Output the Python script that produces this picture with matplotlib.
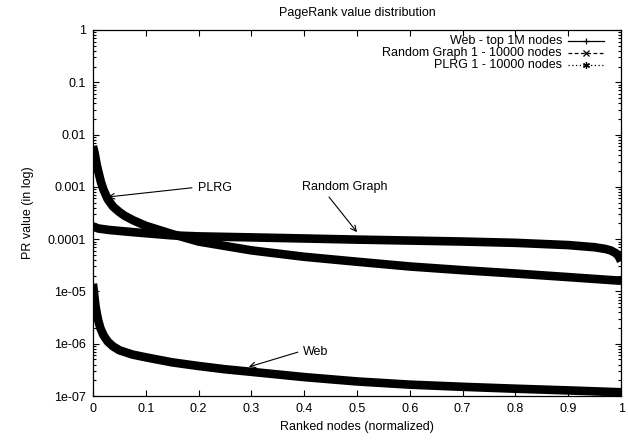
import matplotlib
matplotlib.use("Agg")
import matplotlib.pyplot as plt
from matplotlib.ticker import FixedLocator, FixedFormatter, LogLocator, NullFormatter

plt.rcParams['font.family'] = ['Liberation Sans', 'DejaVu Sans']

# ---- data ----
web_x = [0, 0.002, 0.005, 0.0075, 0.01, 0.014, 0.02, 0.028, 0.038, 0.05, 0.075, 0.1,
         0.15, 0.2, 0.25, 0.3, 0.4, 0.5, 0.6, 0.7, 0.8, 0.9, 1.0]
web_y = [1.4e-5, 9.3e-6, 5.1e-6, 3.7e-6, 2.8e-6, 2.0e-6, 1.45e-6, 1.1e-6, 8.9e-7,
         7.5e-7, 6.2e-7, 5.5e-7, 4.4e-7, 3.75e-7, 3.25e-7, 2.9e-7, 2.3e-7, 1.9e-7,
         1.65e-7, 1.5e-7, 1.38e-7, 1.28e-7, 1.18e-7]

rg_x = [0, 0.01, 0.03, 0.076, 0.15, 0.2, 0.3, 0.4, 0.5, 0.6, 0.7, 0.8, 0.9, 0.95,
        0.97, 0.98, 0.99, 0.995, 1.0]
rg_y = [1.75e-4, 1.6e-4, 1.5e-4, 1.36e-4, 1.18e-4, 1.13e-4, 1.08e-4, 1.03e-4, 9.8e-5,
        9.4e-5, 9.0e-5, 8.5e-5, 7.7e-5, 7.0e-5, 6.5e-5, 6.1e-5, 5.4e-5, 4.8e-5, 3.8e-5]

plrg_x = [0, 0.003, 0.005, 0.007, 0.01, 0.015, 0.02, 0.028, 0.038, 0.05, 0.06, 0.076,
          0.1, 0.127, 0.15, 0.2, 0.3, 0.4, 0.5, 0.6, 0.7, 0.8, 0.9, 1.0]
plrg_y = [6e-3, 4.5e-3, 3.5e-3, 2.7e-3, 2e-3, 1.25e-3, 8.8e-4, 5.8e-4, 4.2e-4, 3.3e-4,
          2.8e-4, 2.3e-4, 1.8e-4, 1.48e-4, 1.25e-4, 9.0e-5, 6.1e-5, 4.6e-5, 3.7e-5,
          3.0e-5, 2.55e-5, 2.2e-5, 1.88e-5, 1.6e-5]

series_labels = ["Web - top 1M nodes", "Random Graph 1 - 10000 nodes", "PLRG 1 - 10000 nodes"]

x_ticks = [0, 0.1, 0.2, 0.3, 0.4, 0.5, 0.6, 0.7, 0.8, 0.9, 1]
x_tick_labels = ["0", "0.1", "0.2", "0.3", "0.4", "0.5", "0.6", "0.7", "0.8", "0.9", "1"]
y_ticks = [1e-7, 1e-6, 1e-5, 1e-4, 1e-3, 1e-2, 1e-1, 1]
y_tick_labels = ["1e-07", "1e-06", "1e-05", "0.0001", "0.001", "0.01", "0.1", "1"]

# ---- figure ----
fig = plt.figure(figsize=(6.28, 4.41), dpi=100)
ax = fig.add_axes([0.148, 0.102, 0.841, 0.830])

lw = 6.2
for xs, ys in ((web_x, web_y), (rg_x, rg_y), (plrg_x, plrg_y)):
    ax.plot(xs, ys, color='black', lw=lw, solid_capstyle='butt', solid_joinstyle='round')

ax.set_yscale('log')
ax.set_xlim(0, 1)
ax.set_ylim(1e-7, 1)

ax.xaxis.set_major_locator(FixedLocator(x_ticks))
ax.xaxis.set_major_formatter(FixedFormatter(x_tick_labels))
ax.yaxis.set_major_locator(FixedLocator(y_ticks))
ax.yaxis.set_major_formatter(FixedFormatter(y_tick_labels))
ax.yaxis.set_minor_locator(LogLocator(base=10, subs=range(2, 10), numticks=20))
ax.yaxis.set_minor_formatter(NullFormatter())

ax.tick_params(which='both', direction='in', top=True, right=True, labelsize=9, width=0.8)
ax.tick_params(which='major', length=4, pad=5)
ax.tick_params(which='minor', length=2)
for s in ax.spines.values():
    s.set_linewidth(0.9)

ax.set_title("PageRank value distribution", fontsize=9, pad=10)
ax.set_xlabel("Ranked nodes (normalized)", fontsize=9, labelpad=4)
ax.set_ylabel("PR value (in log)", fontsize=9, labelpad=10)

# ---- gnuplot-like key ----
key_rows = [0.971, 0.936, 0.904]
key_styles = [('-', '+'), ((0, (3, 2)), 'x'), ((0, (1, 2)), (6, 2, 0))]
for lab, yy, (ls, mk) in zip(series_labels, key_rows, key_styles):
    ax.text(0.888, yy, lab, transform=ax.transAxes, ha='right', va='center', fontsize=9)
    ax.plot([0.8996, 0.968], [yy, yy], transform=ax.transAxes, color='black',
            lw=0.9, ls=ls)
    ax.plot([0.934], [yy], transform=ax.transAxes, color='black', marker=mk,
            ms=5, mew=0.9, ls='none')

# ---- annotations ----
arrow = dict(arrowstyle='->', color='black', lw=0.8, shrinkA=0, shrinkB=0)
ax.annotate("", xy=(0.028, 6.4e-4), xytext=(0.1875, 9.6e-4), arrowprops=arrow)
ax.text(0.199, 9.6e-4, "PLRG", fontsize=9, ha='left', va='center')
ax.annotate("", xy=(0.5, 1.36e-4), xytext=(0.447, 6.4e-4), arrowprops=arrow)
ax.text(0.477, 1.0e-3, "Random Graph", fontsize=9, ha='center', va='center')
ax.annotate("", xy=(0.295, 3.6e-7), xytext=(0.388, 6.9e-7), arrowprops=arrow)
ax.text(0.398, 6.9e-7, "Web", fontsize=9, ha='left', va='center')

fig.savefig("out.png", dpi=100)
